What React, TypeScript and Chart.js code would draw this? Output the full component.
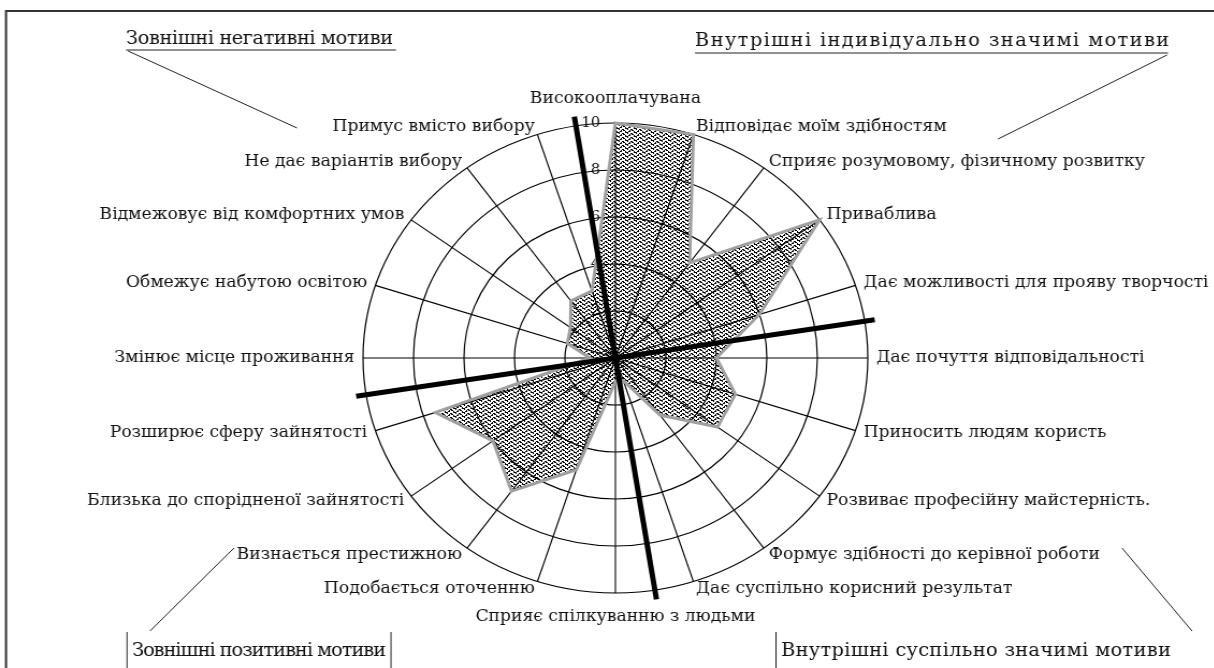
import React, { useEffect, useRef } from "react";
import { Chart, registerables } from "chart.js";

Chart.register(...registerables);

// ---- data ----
const categories = [
  "Високооплачувана",
  "Відповідає моїм здібностям",
  "Сприяє розумовому, фізичному розвитку",
  "Приваблива",
  "Дає можливості для прояву творчості",
  "Дає почуття відповідальності",
  "Приносить людям користь",
  "Розвиває професійну майстерність.",
  "Формує здібності до керівної роботи",
  "Дає суспільно корисний результат",
  "Сприяє спілкуванню з людьми",
  "Подобається оточенню",
  "Визнається престижною",
  "Близька до спорідненої зайнятості",
  "Розширює сферу зайнятості",
  "Змінює місце проживання",
  "Обмежує набутою освітою",
  "Відмежовує від комфортних умов",
  "Не дає варіантів вибору",
  "Примус вмісто вибору",
];
const values = [10, 10, 5, 10, 6, 4, 5, 5, 3, 1, 1, 5, 7, 6, 7.5, 1, 2, 2.2, 3, 3];
const scaleMin = 0;
const scaleMax = 10;
const scaleStep = 2;

// motive groups: first category index of each group
const groupNames = [
  "Внутрішні індивідуально значимі мотиви",
  "Внутрішні суспільно значимі мотиви",
  "Зовнішні позитивні мотиви",
  "Зовнішні негативні мотиви",
];
const groupStarts = [0, 5, 10, 15];

// ---- layout constants (page px) ----
const PAGE_W = 1214;
const PAGE_H = 668;
const SX = 1.074; // horizontal stretch (ellipse)
const CW = Math.round(PAGE_W / SX);
const CH = PAGE_H;
const FONT = '"DejaVu Serif", "Liberation Serif", serif';

function makePattern(): CanvasPattern | string {
  const t = document.createElement("canvas");
  const n = 8;
  t.width = n;
  t.height = n;
  const c = t.getContext("2d");
  if (!c) return "#888";
  const img = c.createImageData(n, n);
  for (let y = 0; y < n; y++) {
    for (let x = 0; x < n; x++) {
      const v = x < n / 2 ? y + x : y - x + (n - 1);
      const m = ((v % 4) + 4) % 4;
      const k = (y * n + x) * 4;
      if (m === 0 || (m === 1 && x % 2 === 0)) {
        img.data[k] = 0;
        img.data[k + 1] = 0;
        img.data[k + 2] = 0;
        img.data[k + 3] = 255;
      } else {
        img.data[k + 3] = 0;
      }
    }
  }
  c.putImageData(img, 0, 0);
  return c.createPattern(t, "repeat") || "#888";
}

// annotations in page coordinates (text left, baseline, target width)
type Ann = {
  text: string;
  tx: number;
  ty: number;
  tw: number;
  lines: number[][];
};
const annotations: Ann[] = [
  { text: groupNames[3], tx: 126, ty: 44, tw: 267, lines: [[126, 50, 396, 50], [128, 51, 297, 128]] },
  { text: groupNames[0], tx: 695, ty: 46, tw: 474, lines: [[695, 53, 1168, 53], [1167, 55, 998, 139]] },
  { text: groupNames[2], tx: 132, ty: 656, tw: 254, lines: [[127, 632, 127, 668], [391, 632, 391, 668], [234, 548, 150, 631]] },
  { text: groupNames[1], tx: 781, ty: 656, tw: 390, lines: [[776, 632, 776, 668], [1122, 548, 1192, 631]] },
];

const overlayPlugin = {
  id: "overlay",
  beforeDatasetsDraw(chart: any) {
    const s = chart.scales.r;
    const ctx = chart.ctx;
    ctx.save();
    ctx.font = `14px ${FONT}`;
    ctx.fillStyle = "#111";
    ctx.textAlign = "right";
    ctx.textBaseline = "middle";
    s.ticks.forEach((t: any) => {
      if (t.value <= scaleMin) return;
      const d = s.getDistanceFromCenterForValue(t.value);
      ctx.fillText(String(t.value), s.xCenter - 14, s.yCenter - d);
    });
    ctx.restore();
  },
  afterDatasetsDraw(chart: any) {
    const s = chart.scales.r;
    const ctx = chart.ctx;
    ctx.save();
    ctx.strokeStyle = "#000";
    ctx.lineWidth = 5;
    ctx.lineCap = "butt";
    groupStarts.forEach((g) => {
      const p = s.getPointPosition(g - 0.5, s.drawingArea * 1.04);
      ctx.beginPath();
      ctx.moveTo(s.xCenter, s.yCenter);
      ctx.lineTo(p.x, p.y);
      ctx.stroke();
    });
    ctx.restore();
  },
  afterDraw(chart: any) {
    const s = chart.scales.r;
    const ctx = chart.ctx;
    const R = s.drawingArea;
    const n = categories.length;
    ctx.save();
    ctx.fillStyle = "#111";
    ctx.font = `16px ${FONT}`;
    categories.forEach((lab, i) => {
      const ang = (i * 360) / n;
      ctx.textBaseline = "middle";
      if (ang === 0 || ang === 180) {
        const p = s.getPointPosition(i, R + 24);
        ctx.textAlign = "center";
        ctx.fillText(lab, p.x, p.y);
      } else {
        const p = s.getPointPosition(i, R + 8);
        ctx.textAlign = ang < 180 ? "left" : "right";
        ctx.fillText(lab, p.x, p.y);
      }
    });

    // group annotations
    ctx.font = `18px ${FONT}`;
    ctx.textAlign = "left";
    ctx.textBaseline = "alphabetic";
    ctx.strokeStyle = "#222";
    ctx.lineWidth = 1;
    annotations.forEach((a) => {
      const c: any = ctx;
      const hasLS = "letterSpacing" in c;
      if (hasLS) c.letterSpacing = "0px";
      const w = ctx.measureText(a.text).width;
      const target = a.tw / SX;
      if (hasLS) {
        const sp = (target - w) / Math.max(1, a.text.length - 1);
        c.letterSpacing = `${sp.toFixed(2)}px`;
      }
      ctx.fillText(a.text, a.tx / SX, a.ty);
      if (hasLS) c.letterSpacing = "0px";
      a.lines.forEach((l) => {
        ctx.beginPath();
        ctx.moveTo(l[0] / SX, l[1]);
        ctx.lineTo(l[2] / SX, l[3]);
        ctx.stroke();
      });
    });

    // frame
    ctx.strokeStyle = "#333";
    ctx.lineWidth = 2;
    ctx.beginPath();
    ctx.moveTo(6 / SX, PAGE_H);
    ctx.lineTo(6 / SX, 11);
    ctx.lineTo(CW, 11);
    ctx.stroke();
    ctx.restore();
  },
};

export default function App() {
  const ref = useRef<HTMLCanvasElement>(null);
  useEffect(() => {
    const canvas = ref.current;
    if (!canvas) return;
    const pattern = makePattern();
    const R = 235;
    const cx = 573;
    const cy = 358;
    const chart = new Chart(canvas, {
      type: "radar",
      data: {
        labels: categories,
        datasets: [
          {
            data: values,
            backgroundColor: pattern as any,
            borderColor: "#a0a0a0",
            borderWidth: 3,
            pointRadius: 0,
            fill: true,
          },
        ],
      },
      options: {
        responsive: false,
        animation: false,
        layout: {
          padding: { left: cx - R, right: CW - (cx - R) - 2 * R, top: cy - R, bottom: CH - (cy - R) - 2 * R },
        },
        plugins: { legend: { display: false }, tooltip: { enabled: false } },
        scales: {
          r: {
            min: scaleMin,
            max: scaleMax,
            ticks: { display: false, stepSize: scaleStep },
            grid: { circular: true, color: "#000", lineWidth: 1.2 },
            angleLines: { color: "#000", lineWidth: 1.1 },
            pointLabels: { display: false },
          },
        },
      },
      plugins: [overlayPlugin],
    });
    return () => chart.destroy();
  }, []);
  return (
    <div style={{ position: "absolute", left: 0, top: 0, width: PAGE_W, height: PAGE_H, overflow: "hidden", background: "#fff" }}>
      <div style={{ width: CW, height: CH, transform: `scaleX(${SX})`, transformOrigin: "0 0" }}>
        <canvas ref={ref} width={CW} height={CH} style={{ width: `${CW}px`, height: `${CH}px`, display: "block" }} />
      </div>
    </div>
  );
}
